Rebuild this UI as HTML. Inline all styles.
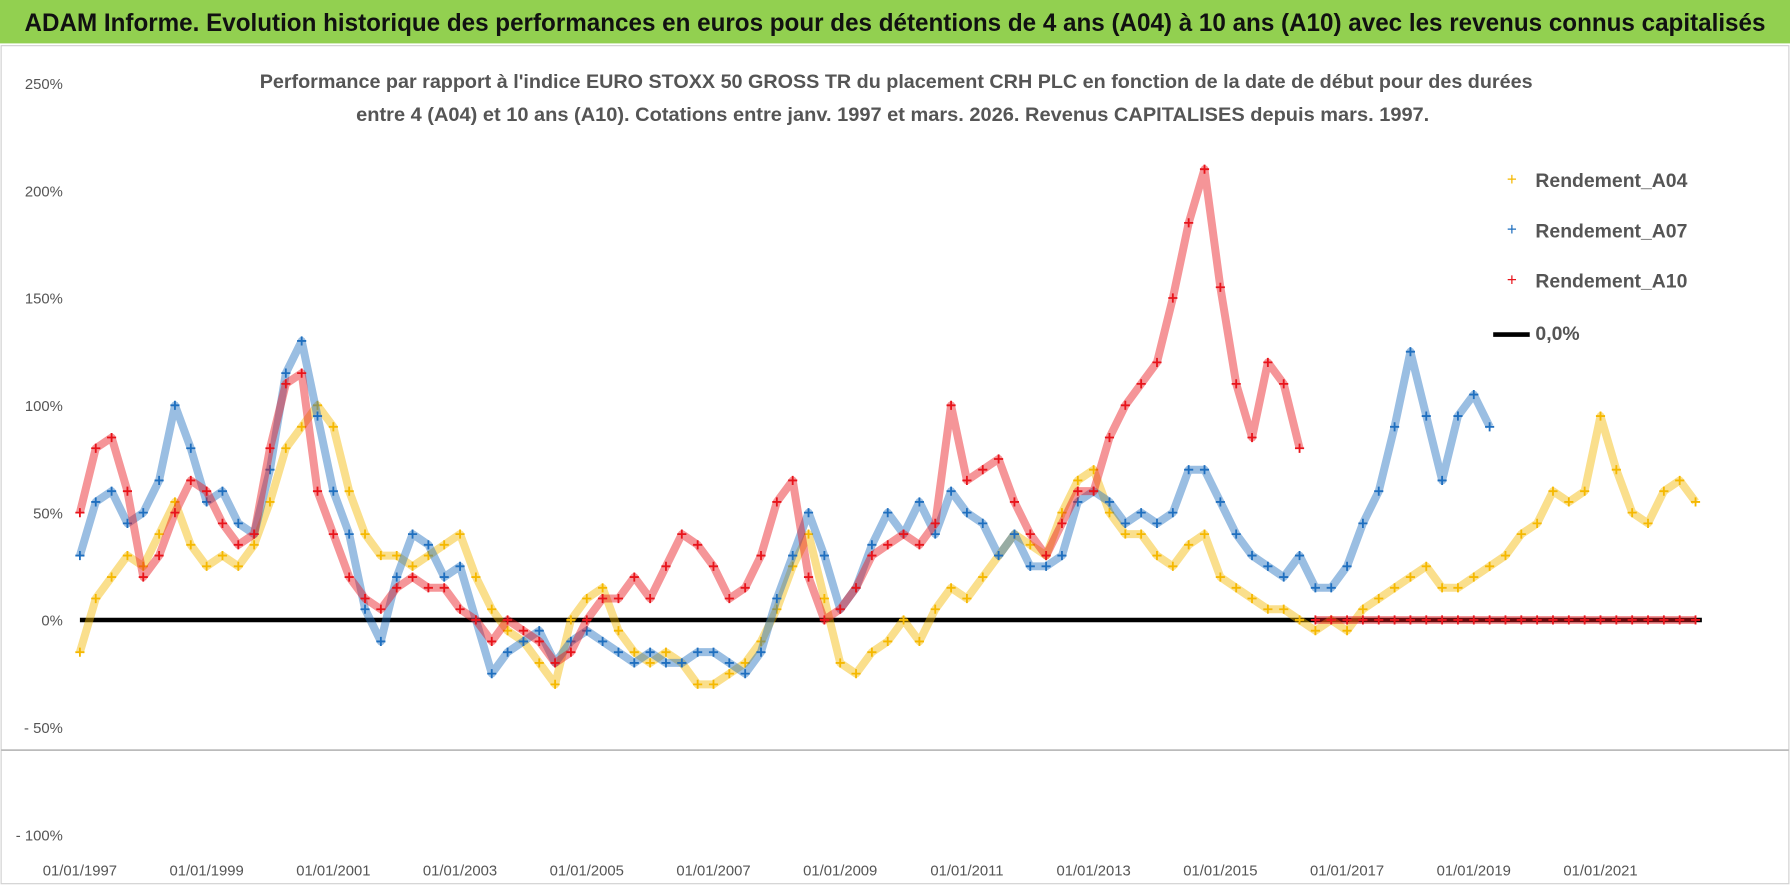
<!DOCTYPE html>
<html><head><meta charset="utf-8"><style>
html,body{margin:0;padding:0;background:#fff;}
svg{display:block;font-family:"Liberation Sans",sans-serif;}
</style></head><body>
<svg id="chart" width="1790" height="886" viewBox="0 0 1568 776" preserveAspectRatio="none" xmlns="http://www.w3.org/2000/svg">
<rect x="0" y="0" width="1568" height="776" fill="#fff"/>
<rect x="0" y="0" width="1568" height="38" fill="#92D050"/>
<text x="784" y="27" text-anchor="middle" font-size="22" font-weight="bold" fill="#111" textLength="1525" lengthAdjust="spacingAndGlyphs">ADAM Informe. Evolution historique des performances en euros pour des détentions de 4 ans (A04) à 10 ans (A10) avec les revenus connus capitalisés</text>
<rect x="1" y="40" width="1566" height="734" fill="none" stroke="#d0d0d0"/>
<text x="785" y="77" text-anchor="middle" font-size="17" font-weight="bold" fill="#555" textLength="1115" lengthAdjust="spacingAndGlyphs">Performance par rapport à l'indice EURO STOXX 50 GROSS TR  du placement CRH PLC en fonction de la date de début pour des durées</text>
<text x="782" y="106" text-anchor="middle" font-size="17" font-weight="bold" fill="#555" textLength="940" lengthAdjust="spacingAndGlyphs">entre 4 (A04) et 10 ans (A10).  Cotations entre janv. 1997 et mars. 2026.  Revenus CAPITALISES depuis mars. 1997.</text>
<line x1="1" y1="657" x2="1567" y2="657" stroke="#bbb" stroke-width="1.5"/>
<g id="yaxis"></g><g id="xaxis"></g><g id="series"></g>
<g>
<text x="1320" y="162" font-size="15" fill="#f5b800">+</text>
<text x="1345" y="164" font-size="17" font-weight="bold" fill="#555">Rendement_A04</text>
<text x="1320" y="206" font-size="15" fill="#1f6fbf">+</text>
<text x="1345" y="208" font-size="17" font-weight="bold" fill="#555">Rendement_A07</text>
<text x="1320" y="250" font-size="15" fill="#e8141b">+</text>
<text x="1345" y="252" font-size="17" font-weight="bold" fill="#555">Rendement_A10</text>
<line x1="1308" y1="293" x2="1340" y2="293" stroke="#000" stroke-width="4"/>
<text x="1345" y="298" font-size="17" font-weight="bold" fill="#555">0,0%</text>
</g>
</svg>
<script>
const yTicks=[250,200,150,100,50,0,-50,-100];
const xTickYears=[1997,1999,2001,2003,2005,2007,2009,2011,2013,2015,2017,2019,2021];
const a04Years=[1997,1997.25,1997.5,1997.75,1998,1998.25,1998.5,1998.75,1999,1999.25,1999.5,1999.75,2000,2000.25,2000.5,2000.75,2001,2001.25,2001.5,2001.75,2002,2002.25,2002.5,2002.75,2003,2003.25,2003.5,2003.75,2004,2004.25,2004.5,2004.75,2005,2005.25,2005.5,2005.75,2006,2006.25,2006.5,2006.75,2007,2007.25,2007.5,2007.75,2008,2008.25,2008.5,2008.75,2009,2009.25,2009.5,2009.75,2010,2010.25,2010.5,2010.75,2011,2011.25,2011.5,2011.75,2012,2012.25,2012.5,2012.75,2013,2013.25,2013.5,2013.75,2014,2014.25,2014.5,2014.75,2015,2015.25,2015.5,2015.75,2016,2016.25,2016.5,2016.75,2017,2017.25,2017.5,2017.75,2018,2018.25,2018.5,2018.75,2019,2019.25,2019.5,2019.75,2020,2020.25,2020.5,2020.75,2021,2021.25,2021.5,2021.75,2022,2022.25,2022.5];
const a04Values=[-15,10,20,30,25,40,55,35,25,30,25,35,55,80,90,100,90,60,40,30,30,25,30,35,40,20,5,-5,-10,-20,-30,0,10,15,-5,-15,-20,-15,-20,-30,-30,-25,-20,-10,5,25,40,10,-20,-25,-15,-10,0,-10,5,15,10,20,30,40,35,30,50,65,70,50,40,40,30,25,35,40,20,15,10,5,5,0,-5,0,-5,5,10,15,20,25,15,15,20,25,30,40,45,60,55,60,95,70,50,45,60,65,55];
const a07Years=[1997,1997.25,1997.5,1997.75,1998,1998.25,1998.5,1998.75,1999,1999.25,1999.5,1999.75,2000,2000.25,2000.5,2000.75,2001,2001.25,2001.5,2001.75,2002,2002.25,2002.5,2002.75,2003,2003.25,2003.5,2003.75,2004,2004.25,2004.5,2004.75,2005,2005.25,2005.5,2005.75,2006,2006.25,2006.5,2006.75,2007,2007.25,2007.5,2007.75,2008,2008.25,2008.5,2008.75,2009,2009.25,2009.5,2009.75,2010,2010.25,2010.5,2010.75,2011,2011.25,2011.5,2011.75,2012,2012.25,2012.5,2012.75,2013,2013.25,2013.5,2013.75,2014,2014.25,2014.5,2014.75,2015,2015.25,2015.5,2015.75,2016,2016.25,2016.5,2016.75,2017,2017.25,2017.5,2017.75,2018,2018.25,2018.5,2018.75,2019,2019.25];
const a07Values=[30,55,60,45,50,65,100,80,55,60,45,40,70,115,130,95,60,40,5,-10,20,40,35,20,25,0,-25,-15,-10,-5,-20,-10,-5,-10,-15,-20,-15,-20,-20,-15,-15,-20,-25,-15,10,30,50,30,5,15,35,50,40,55,40,60,50,45,30,40,25,25,30,55,60,55,45,50,45,50,70,70,55,40,30,25,20,30,15,15,25,45,60,90,125,95,65,95,105,90];
const a10Years=[1997,1997.25,1997.5,1997.75,1998,1998.25,1998.5,1998.75,1999,1999.25,1999.5,1999.75,2000,2000.25,2000.5,2000.75,2001,2001.25,2001.5,2001.75,2002,2002.25,2002.5,2002.75,2003,2003.25,2003.5,2003.75,2004,2004.25,2004.5,2004.75,2005,2005.25,2005.5,2005.75,2006,2006.25,2006.5,2006.75,2007,2007.25,2007.5,2007.75,2008,2008.25,2008.5,2008.75,2009,2009.25,2009.5,2009.75,2010,2010.25,2010.5,2010.75,2011,2011.25,2011.5,2011.75,2012,2012.25,2012.5,2012.75,2013,2013.25,2013.5,2013.75,2014,2014.25,2014.5,2014.75,2015,2015.25,2015.5,2015.75,2016,2016.25];
const a10Values=[50,80,85,60,20,30,50,65,60,45,35,40,80,110,115,60,40,20,10,5,15,20,15,15,5,0,-10,0,-5,-10,-20,-15,0,10,10,20,10,25,40,35,25,10,15,30,55,65,20,0,5,15,30,35,40,35,45,100,65,70,75,55,40,30,45,60,60,85,100,110,120,150,185,210,155,110,85,120,110,80];
const a10ZeroYears=[2016.5,2016.75,2017,2017.25,2017.5,2017.75,2018,2018.25,2018.5,2018.75,2019,2019.25,2019.5,2019.75,2020,2020.25,2020.5,2020.75,2021,2021.25,2021.5,2021.75,2022,2022.25,2022.5];
const a10ZeroValues=[0,0,0,0,0,0,0,0,0,0,0,0,0,0,0,0,0,0,0,0,0,0,0,0,0];

const NS="http://www.w3.org/2000/svg";
function xs(yr){return 70+(yr-1997)*55.5;}
function ys(v){return 543-v*1.88;}
function mk(tag,attrs,parent){const e=document.createElementNS(NS,tag);for(const k in attrs)e.setAttribute(k,attrs[k]);parent.appendChild(e);return e;}
const yax=document.getElementById('yaxis');
yTicks.forEach(t=>{
  const e=mk('text',{x:55,y:ys(t)+5,'text-anchor':'end','font-size':13,fill:'#555'},yax);
  
  
  e.textContent=(t<0?'- '+(-t):t)+'%';
});
const xax=document.getElementById('xaxis');
xTickYears.forEach(yr=>{
  const e=mk('text',{x:xs(yr),y:767,'text-anchor':'middle','font-size':13,fill:'#555'},xax);
  
  
  e.textContent='01/01/'+yr;
});
const ser=document.getElementById('series');
const zl=mk('line',{x1:xs(1997),y1:ys(0),x2:xs(2022.6),y2:ys(0),stroke:'#000','stroke-width':4},ser);


function drawSeries(years,vals,color,name){
  const g=mk('g',{},ser);
  
  
  const pts=years.map((y,i)=>xs(y).toFixed(1)+','+ys(vals[i]).toFixed(1)).join(' ');
  mk('polyline',{points:pts,fill:'none',stroke:color,'stroke-width':7,'stroke-opacity':0.45,'stroke-linejoin':'round'},g);
  let d='';
  years.forEach((y,i)=>{const x=xs(y),yy=ys(vals[i]);d+=`M${x-4},${yy}h8M${x},${yy-4}v8`;});
  mk('path',{d:d,stroke:color,'stroke-width':1.6,fill:'none'},g);
}
drawSeries(a04Years,a04Values,'#f5b800','series-a04');
drawSeries(a07Years,a07Values,'#1f6fbf','series-a07');
drawSeries(a10Years,a10Values,'#e8141b','series-a10');
drawSeries(a10ZeroYears,a10ZeroValues,'#e8141b','series-a10-zero');
</script>
</body></html>
